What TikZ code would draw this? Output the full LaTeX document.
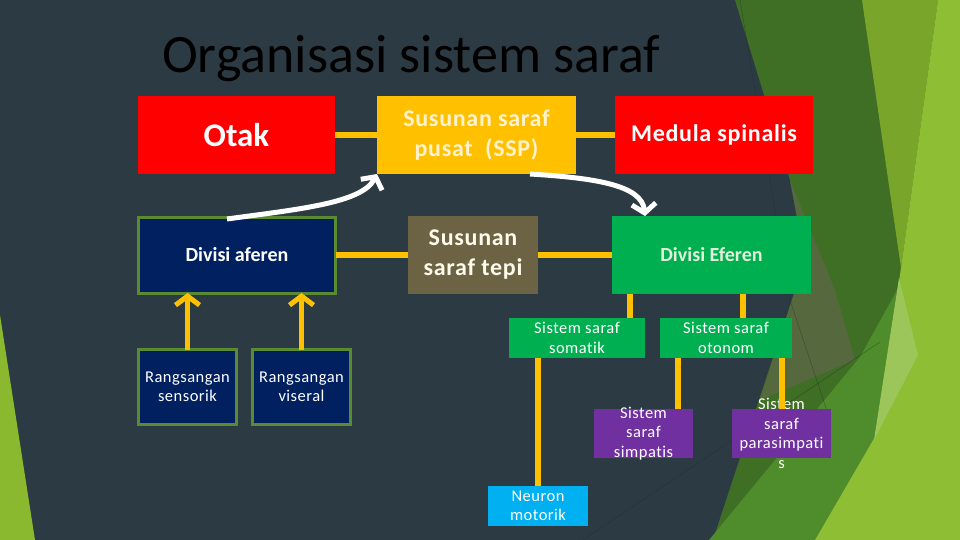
\documentclass[tikz,border=0pt]{standalone}
\usepackage{fontspec}
\setmainfont{Carlito}[Ligatures=NoCommon]
\usetikzlibrary{arrows.meta}
\definecolor{slate}{HTML}{2C3B43}
\definecolor{dkgreen}{HTML}{3F6E25}
\definecolor{midgreen}{HTML}{79A62A}
\definecolor{ltgreen}{HTML}{8DBE33}
\definecolor{lowgreen}{HTML}{4F8C2B}
\definecolor{olivegray}{HTML}{56683E}
\definecolor{pale}{HTML}{9CC65A}
\definecolor{leftgreen}{HTML}{8AB82F}
\definecolor{redbox}{HTML}{FF0000}
\definecolor{yel}{HTML}{FFC000}
\definecolor{navy}{HTML}{002060}
\definecolor{navyborder}{HTML}{5A8A32}
\definecolor{tepibox}{HTML}{6B6343}
\definecolor{greenbox}{HTML}{00B050}
\definecolor{purplebox}{HTML}{7030A0}
\definecolor{cyanbox}{HTML}{00B0F0}
\definecolor{cream}{HTML}{FFF2CC}
\definecolor{mint}{HTML}{E2F0D9}
\definecolor{facetline}{HTML}{1E282E}
\begin{document}
\begin{tikzpicture}[x=1pt,y=-1pt,
  box/.style={rectangle, inner sep=0pt, outer sep=0pt},
  lbl/.style={text=white, align=center, inner sep=0pt},
  bigtxt/.style={font=\bfseries\fontsize{24}{30}\selectfont\addfontfeature{LetterSpace=3}},
  midtxt/.style={font=\bfseries\fontsize{20}{24}\selectfont},
  smalltxt/.style={font=\fontsize{16.5}{19.5}\selectfont\addfontfeature{LetterSpace=3}},
  conn/.style={draw=yel, line width=6pt},
  yarrow/.style={draw=yel, line width=5pt, -{Straight Barb[length=9pt,width=24pt]}},
  warrow/.style={draw=white, line width=5pt, -{Straight Barb[length=9pt,width=24pt]}},
  fline/.style={draw=facetline, line width=0.4pt, opacity=0.5}
]
% background
\fill[slate] (0,0) rectangle (960,540);
\useasboundingbox (0,0) rectangle (960,540);
% left facet
\fill[leftgreen] (0,315) -- (35,540) -- (0,540) -- cycle;
% right facets
\fill[dkgreen] (735,0) -- (960,0) -- (960,540) -- (713,540) -- (805,260) -- (790,180) -- cycle;
\fill[olivegray] (790,180) -- (805,260) -- (776,350) -- (760,400) -- (855,360) -- (835,290) -- cycle;
\fill[midgreen] (862,0) -- (938,0) -- (901,268) -- cycle;
\fill[lowgreen] (709,540) -- (860,357) -- (897,290) -- (876,435) -- (815,540) -- cycle;
\fill[ltgreen] (938,0) -- (960,0) -- (960,540) -- (815,540) -- (876,435) -- (901,268) -- cycle;
\fill[pale] (899,278) -- (918,355) -- (874,440) -- cycle;
\draw[fline] (740,0) -- (790,300) -- (830,420);
\draw[fline] (583,540) -- (733,440) -- (880,342);
% title
\node[anchor=base west, inner sep=0pt, text=black, font=\fontsize{54}{60}\selectfont] (title) at (162,73) {Organisasi sistem saraf};
% top row
\node[box, fill=redbox, minimum width=197pt, minimum height=78pt,
  label={[lbl, font=\bfseries\fontsize{33}{36}\selectfont]center:Otak}] (otak) at (236.5,135) {};
\node[box, fill=yel, minimum width=199pt, minimum height=78pt,
  label={[lbl, bigtxt, text=cream]center:{Susunan saraf\\pusat~ (SSP)}}] (ssp) at (476.5,135) {};
\node[box, fill=redbox, minimum width=198pt, minimum height=78pt,
  label={[lbl, bigtxt]center:Medula spinalis}] (medula) at (714,135) {};
% middle row
\node[box, fill=navy, draw=navyborder, line width=3pt, minimum width=197pt, minimum height=76pt,
  label={[lbl, midtxt]center:Divisi aferen}] (aferen) at (237,255) {};
\node[box, fill=tepibox, minimum width=130pt, minimum height=78pt,
  label={[lbl, bigtxt, text=cream!40!white]center:{Susunan\\saraf tepi}}] (tepi) at (473,255) {};
\node[box, fill=greenbox, minimum width=199pt, minimum height=78pt,
  label={[lbl, midtxt, text=mint]center:Divisi Eferen}] (eferen) at (711.5,255) {};
% lower boxes
\node[box, fill=navy, draw=navyborder, line width=3pt, minimum width=98pt, minimum height=75pt,
  label={[lbl, smalltxt]center:{Rangsangan\\sensorik}}] (sensorik) at (187.5,387) {};
\node[box, fill=navy, draw=navyborder, line width=3pt, minimum width=98pt, minimum height=75pt,
  label={[lbl, smalltxt]center:{Rangsangan\\viseral}}] (viseral) at (301.5,387) {};
\node[box, fill=greenbox, minimum width=136pt, minimum height=40pt,
  label={[lbl, smalltxt]center:{Sistem saraf\\somatik}}] (somatik) at (577,338) {};
\node[box, fill=greenbox, minimum width=132pt, minimum height=40pt,
  label={[lbl, smalltxt]center:{Sistem saraf\\otonom}}] (otonom) at (726,338) {};
\node[box, fill=purplebox, minimum width=99pt, minimum height=49pt,
  label={[lbl, smalltxt]center:{Sistem\\saraf\\simpatis}}] (simpatis) at (643.5,433.5) {};
\node[box, fill=purplebox, minimum width=99pt, minimum height=49pt,
  label={[lbl, smalltxt]center:{Sistem\\saraf\\parasimpati\\s}}] (para) at (781.5,433.5) {};
\node[box, fill=cyanbox, minimum width=100pt, minimum height=40pt,
  label={[lbl, smalltxt]center:{Neuron\\motorik}}] (neuron) at (538,506) {};
% connectors
\draw[conn] (otak.east) -- (ssp.west);
\draw[conn] (ssp.east) -- (medula.west);
\draw[conn] (aferen.east) -- (tepi.west);
\draw[conn] (tepi.east) -- (eferen.west);
\draw[conn] ([xshift=53pt]somatik.north) -- ([xshift=53pt]somatik.north |- eferen.south);
\draw[conn] ([xshift=17pt]otonom.north) -- ([xshift=17pt]otonom.north |- eferen.south);
\draw[conn] (neuron.north) -- (neuron.north |- somatik.south);
\draw[conn] ([xshift=34.5pt]simpatis.north) -- ([xshift=34.5pt]simpatis.north |- otonom.south);
\draw[conn] (para.north) -- (para.north |- otonom.south);
% yellow arrows
\draw[yarrow] (sensorik.north) -- (sensorik.north |- aferen.south);
\draw[yarrow] (viseral.north) -- (viseral.north |- aferen.south);
% white curved arrows
\draw[warrow] ([xshift=-10pt,yshift=-2pt]aferen.north) .. controls (300,209) and (362,203) .. (ssp.south west);
\draw[warrow] ([xshift=53.5pt]ssp.south) .. controls (595,178) and (642,185) .. ([xshift=-66.5pt]eferen.north);
\end{tikzpicture}
\end{document}
